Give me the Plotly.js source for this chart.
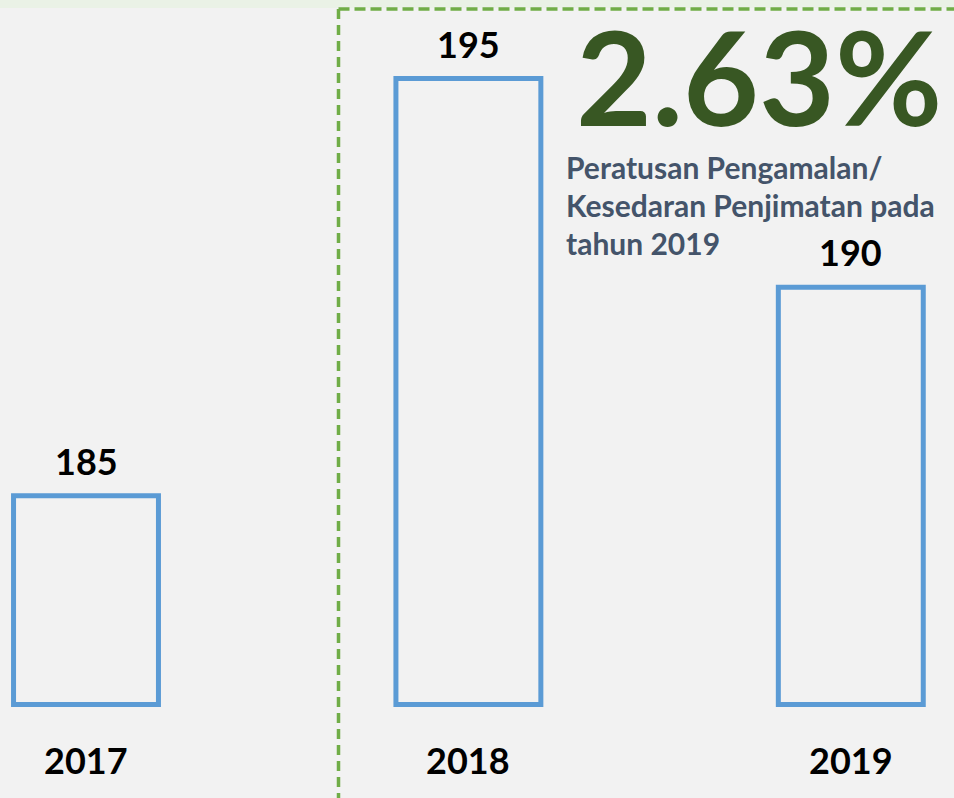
<!DOCTYPE html>
<html>
<head>
<meta charset="utf-8">
<script src="https://cdn.plot.ly/plotly-3.0.1.min.js"></script>
<style>html,body{margin:0;padding:0;background:#f2f2f2;}#chart{width:954px;height:798px;}</style>
</head>
<body>
<div id="chart"></div>
<script>
// ---- data ----
const years = ["2017", "2018", "2019"];
const values = [185, 195, 190];
const headline = "2.63%";
const subtitleLines = ["Peratusan Pengamalan/", "Kesedaran Penjimatan pada", "tahun 2019"];

// ---- style / layout ----
const W = 954, H = 798;
const BASE = 180;
const px = v => v / W;            // x pixel -> paper
const py = v => 1 - v / H;        // y pixel -> paper
const FONT = "Lato, 'Open Sans', sans-serif";

const trace = {
  type: "bar",
  x: years.map((_, i) => i),
  y: values.map(v => v - BASE),
  base: BASE,
  width: 0.379,
  marker: { color: "rgba(0,0,0,0)", line: { color: "#5B9BD5", width: 5 } },
  hoverinfo: "skip",
  cliponaxis: false
};

const annotations = [];
values.forEach((v, i) => {
  annotations.push({
    x: i, y: v, xref: "x", yref: "y", text: "<b>" + v + "</b>",
    showarrow: false, yanchor: "bottom", yshift: 11,
    font: { family: FONT, size: 36, color: "#000000" }
  });
});
years.forEach((yr, i) => {
  annotations.push({
    x: i, y: py(760), xref: "x", yref: "paper", text: "<b>" + yr + "</b>",
    showarrow: false, yanchor: "middle",
    font: { family: FONT, size: 36, color: "#000000" }
  });
});
annotations.push({
  x: px(574), y: py(75), xref: "paper", yref: "paper", text: "<b>" + headline + "</b>",
  showarrow: false, xanchor: "left", yanchor: "middle",
  font: { family: FONT, size: 131, color: "#385723" }
});
subtitleLines.forEach((t, k) => {
  annotations.push({
    x: px(564), y: py(167 + 38 * k), xref: "paper", yref: "paper", text: "<b>" + t + "</b>",
    showarrow: false, xanchor: "left", yanchor: "middle",
    font: { family: FONT, size: 30, color: "#44546A" }
  });
});

const shapes = [
  { type: "rect", xref: "paper", yref: "paper", x0: 0, x1: 1, y0: py(8), y1: 1,
    fillcolor: "#eaf2e6", line: { width: 0 }, layer: "below" },
  { type: "line", xref: "paper", yref: "paper", x0: px(338.5), x1: px(338.5), y0: py(9), y1: 0,
    line: { color: "#70AD47", width: 3.5, dash: "10px,6px" } },
  { type: "line", xref: "paper", yref: "paper", x0: px(338.5), x1: 1, y0: py(9), y1: py(9),
    line: { color: "#70AD47", width: 3.5, dash: "11px,5px" } }
];

const layout = {
  width: W, height: H,
  margin: { l: 0, r: 0, t: 0, b: 0, pad: 0 },
  paper_bgcolor: "#f2f2f2", plot_bgcolor: "#f2f2f2",
  showlegend: false,
  xaxis: { range: [-0.2249, 2.2699], visible: false, fixedrange: true },
  yaxis: { range: [177.759, 196.882], visible: false, fixedrange: true },
  annotations: annotations,
  shapes: shapes
};

Plotly.newPlot("chart", [trace], layout, { displayModeBar: false, staticPlot: true });
</script>
</body>
</html>
